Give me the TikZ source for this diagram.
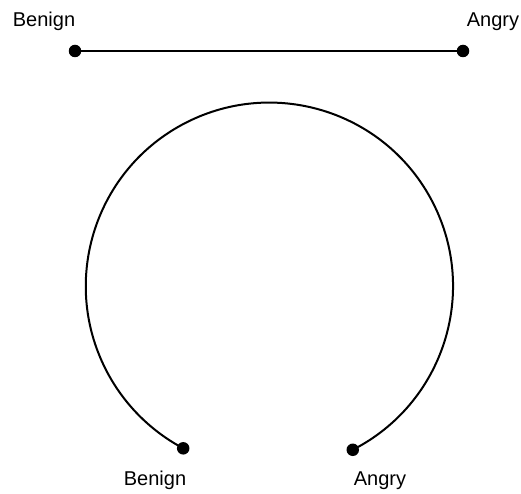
\documentclass[tikz,border=0pt]{standalone}
\usepackage{fontspec}
\setmainfont{Liberation Sans}
\usetikzlibrary{calc}
\begin{document}
\begin{tikzpicture}[x=1pt,y=1pt,
  dot/.style={circle,fill=black,inner sep=0pt,minimum size=12.5pt},
  lbl/.style={anchor=base,inner sep=0pt,font=\fontsize{20}{24}\selectfont},
  wire/.style={line width=2pt,black}]
\useasboundingbox (0,0) rectangle (521,493);
% top segment
\node[dot] (tl) at (75,442) {};
\node[dot] (tr) at (463,442) {};
\draw[wire] (tl) -- (tr);
\node[lbl] (tlbl) at (44,466) {Benign};
\node[lbl] (trlbl) at (493,466) {Angry};
% arc
\coordinate (c) at (269.4,206.8);
\node[dot] (bl) at ($(c)+(242:183.6)$) {};
\node[dot] (br) at ($(c)+(297:183.6)$) {};
\draw[wire] (br.center) arc[start angle=-63,end angle=242,radius=183.6];
\node[lbl] (bllbl) at (155,8) {Benign};
\node[lbl] (brlbl) at (380,8) {Angry};
\end{tikzpicture}
\end{document}
